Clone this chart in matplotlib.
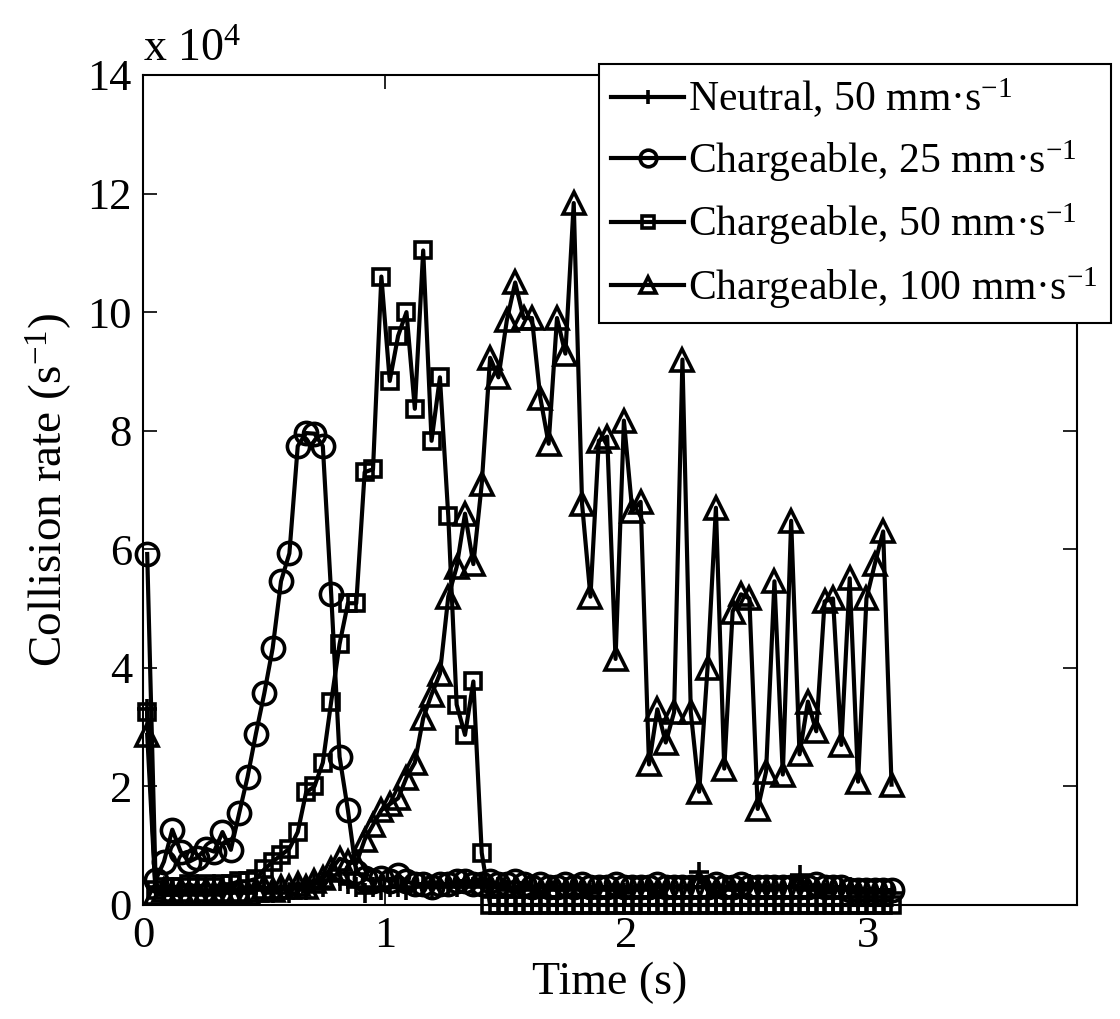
import matplotlib
matplotlib.use('Agg')
import matplotlib.pyplot as plt
import numpy as np

# collision rate, units of 1e4 s^-1, one value per frame
frame_dt = 0.0346

neutral_50 = [3.3, 0.3, 0.2, 0.25, 0.2, 0.3, 0.2, 0.25, 0.2, 0.3,
              0.2, 0.25, 0.2, 0.3, 0.25, 0.2, 0.3, 0.2, 0.35, 0.25,
              0.4, 0.3, 0.5, 0.4, 0.35, 0.3, 0.2, 0.3, 0.25, 0.3,
              0.3, 0.25, 0.3, 0.35, 0.3, 0.3, 0.35, 0.3, 0.4, 0.3,
              0.35, 0.3, 0.3, 0.25, 0.3, 0.25, 0.3, 0.2, 0.3, 0.25,
              0.3, 0.25, 0.3, 0.2, 0.3, 0.25, 0.3, 0.2, 0.3, 0.25,
              0.3, 0.2, 0.3, 0.3, 0.3, 0.3, 0.55, 0.3, 0.2, 0.3,
              0.25, 0.3, 0.35, 0.3, 0.25, 0.3, 0.3, 0.3, 0.5, 0.25,
              0.3, 0.2, 0.3, 0.25, 0.3, 0.2, 0.25, 0.2, 0.25, 0.2]

charge_25 = [5.92, 0.42, 0.73, 1.27, 0.9, 0.73, 0.8, 0.95, 0.9, 1.23,
             0.93, 1.55, 2.16, 2.89, 3.57, 4.33, 5.46, 5.93, 7.74, 7.96,
             7.95, 7.74, 5.24, 2.5, 1.6, 0.55, 0.45, 0.4, 0.45, 0.4,
             0.5, 0.4, 0.35, 0.35, 0.3, 0.35, 0.35, 0.4, 0.4, 0.35,
             0.35, 0.4, 0.35, 0.35, 0.4, 0.35, 0.3, 0.35, 0.3, 0.3,
             0.35, 0.3, 0.35, 0.3, 0.3, 0.3, 0.35, 0.3, 0.3, 0.3,
             0.3, 0.35, 0.3, 0.3, 0.3, 0.3, 0.3, 0.3, 0.35, 0.3,
             0.3, 0.35, 0.3, 0.3, 0.3, 0.3, 0.3, 0.3, 0.3, 0.3,
             0.35, 0.3, 0.3, 0.3, 0.25, 0.25, 0.25, 0.25, 0.25, 0.25]

charge_50 = [3.26, 0.25, 0.3, 0.3, 0.3, 0.35, 0.3, 0.35, 0.3, 0.35,
             0.35, 0.4, 0.4, 0.44, 0.6, 0.73, 0.84, 0.95, 1.23, 1.9,
             2.0, 2.4, 3.43, 4.4, 5.09, 5.09, 7.3, 7.35, 10.6, 8.84,
             9.6, 10.0, 8.37, 11.04, 7.83, 8.9, 6.56, 3.38, 2.87, 3.77,
             0.88, 0.0, 0.0, 0.0, 0.0, 0.0, 0.0, 0.0, 0.0, 0.0,
             0.0, 0.0, 0.0, 0.0, 0.0, 0.0, 0.0, 0.0, 0.0, 0.0,
             0.0, 0.0, 0.0, 0.0, 0.0, 0.0, 0.0, 0.0, 0.0, 0.0,
             0.0, 0.0, 0.0, 0.0, 0.0, 0.0, 0.0, 0.0, 0.0, 0.0,
             0.0, 0.0, 0.0, 0.0, 0.0, 0.0, 0.0, 0.0, 0.0, 0.0]

charge_100 = [2.87, 0.2, 0.25, 0.2, 0.25, 0.2, 0.2, 0.25, 0.2, 0.25,
              0.2, 0.25, 0.2, 0.25, 0.3, 0.25, 0.3, 0.3, 0.35, 0.3,
              0.4, 0.45, 0.6, 0.78, 0.73, 0.7, 1.1, 1.35, 1.6, 1.7,
              1.8, 2.15, 2.4, 3.15, 3.55, 3.9, 5.2, 5.7, 6.6, 5.75,
              7.1, 9.23, 8.9, 9.86, 10.5, 9.9, 9.9, 8.56, 7.78, 9.9,
              9.3, 11.84, 6.76, 5.2, 7.83, 7.9, 4.15, 8.17, 6.65, 6.8,
              2.37, 3.3, 2.74, 3.25, 9.2, 3.25, 1.91, 4.0, 6.7, 2.3,
              4.95, 5.24, 5.17, 1.62, 2.25, 5.46, 2.2, 6.48, 2.54, 3.43,
              2.93, 5.12, 5.17, 2.7, 5.51, 2.08, 5.17, 5.75, 6.3, 2.03]

labels = ['Neutral, 50 mm\u00b7s$^{-1}$',
          'Chargeable, 25 mm\u00b7s$^{-1}$',
          'Chargeable, 50 mm\u00b7s$^{-1}$',
          'Chargeable, 100 mm\u00b7s$^{-1}$']
series = [neutral_50, charge_25, charge_50, charge_100]
markers = ['+', 'o', 's', '^']
msizes = [14, 16, 12, 16]

y_ticks = [0, 2, 4, 6, 8, 10, 12, 14]
x_ticks = [0, 1, 2, 3]


def main():
    plt.rcParams['font.family'] = ['Liberation Serif', 'DejaVu Serif']
    plt.rcParams['mathtext.fontset'] = 'custom'
    plt.rcParams['mathtext.rm'] = 'Liberation Serif'
    plt.rcParams['mathtext.it'] = 'Liberation Serif:italic'

    fig = plt.figure(figsize=(11.2, 10.19), dpi=100)
    ax = fig.add_axes([0.1277, 0.1119, 0.8339, 0.8145])

    for vals, lab, mk, ms in zip(series, labels, markers, msizes):
        t = (np.arange(len(vals)) + 0.5) * frame_dt
        ax.plot(t, vals, color='k', lw=3.0, marker=mk, ms=ms,
                mfc='none', mec='k', mew=2.6, label=lab, clip_on=False)

    ax.set_xlim(0, 3.864)
    ax.set_ylim(0, 14)
    ax.set_xticks(x_ticks)
    ax.set_yticks(y_ticks)
    ax.tick_params(direction='in', top=True, right=True, length=10,
                   width=1.2, labelsize=32, pad=8)
    for sp in ax.spines.values():
        sp.set_linewidth(1.5)

    ax.set_xlabel('Time (s)', fontsize=33, labelpad=4)
    ax.set_ylabel('Collision rate (s$^{-1}$)', fontsize=34, labelpad=10)
    ax.text(0.0, 1.005, 'x 10$^4$', transform=ax.transAxes, fontsize=33,
            ha='left', va='bottom')

    leg = ax.legend(loc='upper right', bbox_to_anchor=(1.036, 1.013),
                    fontsize=30, frameon=True, fancybox=False,
                    edgecolor='k', framealpha=1, borderpad=0.3,
                    labelspacing=0.42, handlelength=1.75, handletextpad=0.1,
                    borderaxespad=0, markerscale=0.75)
    leg.get_frame().set_linewidth(1.5)
    leg.set_zorder(5)

    fig.savefig('out.png', dpi=100)


if __name__ == "__main__":
    main()
